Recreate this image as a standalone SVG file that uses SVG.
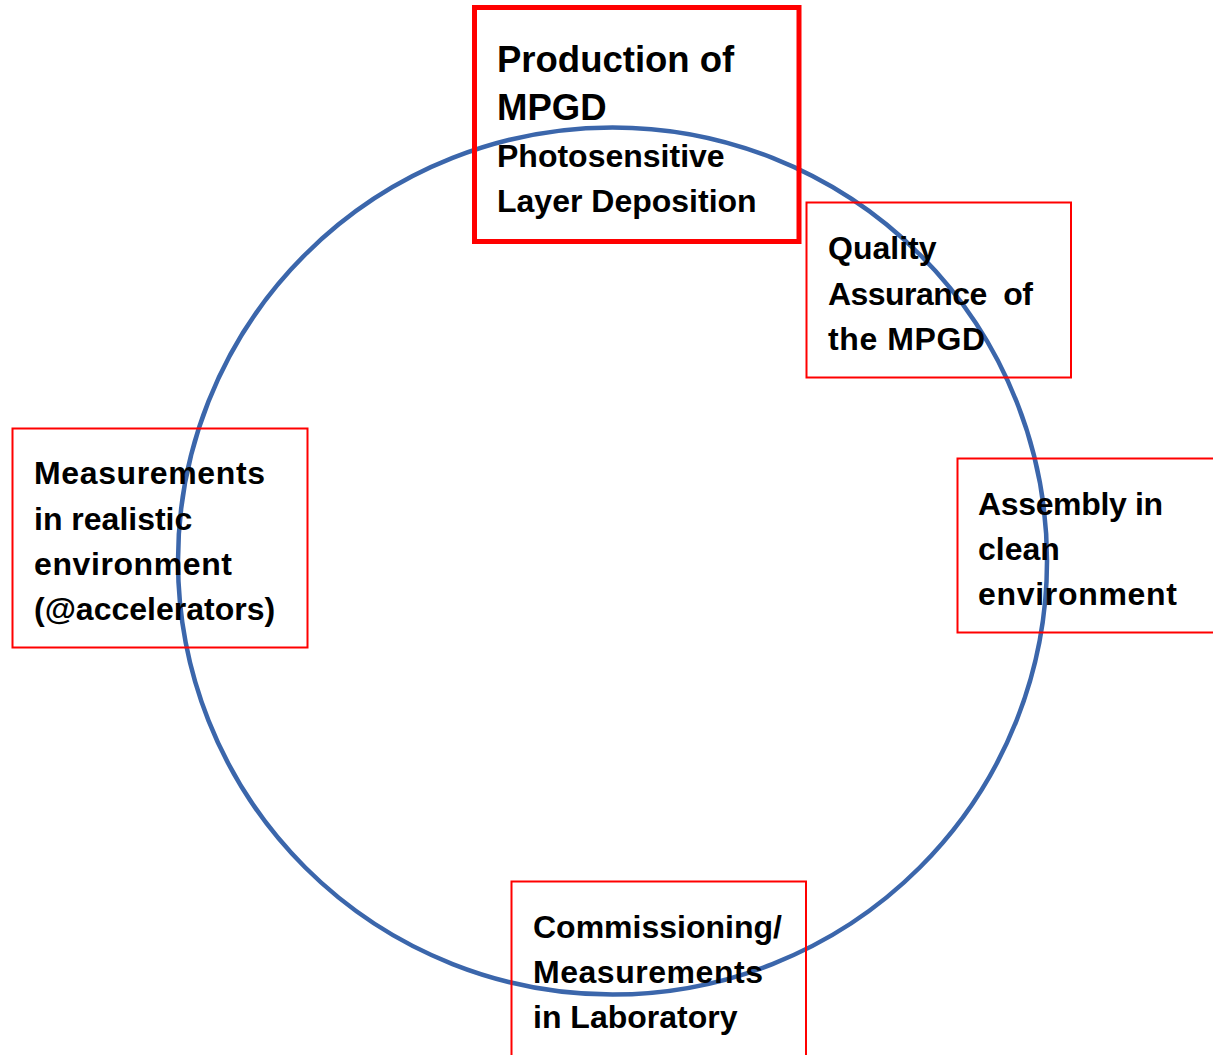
<svg xmlns="http://www.w3.org/2000/svg" width="1213" height="1055" viewBox="0 0 1213 1055">
<style>
.box{fill:none;stroke:#ff0000;stroke-width:2}
.boxb{fill:none;stroke:#ff0000;stroke-width:5}
.t{font-family:"Liberation Sans",Arial,sans-serif;font-weight:bold;font-size:32px;fill:#000}
.tl{font-family:"Liberation Sans",Arial,sans-serif;font-weight:bold;font-size:36.5px;fill:#000}
.ring{fill:none;stroke:#3b66ab;stroke-width:4.5}
</style>
<rect width="1213" height="1055" fill="#ffffff"/>
<g id="connectors">
<ellipse class="ring" cx="612.5" cy="561" rx="434.5" ry="433.5"/>
</g>
<g id="node-production">
<rect class="boxb" x="474.5" y="7.5" width="324.5" height="234"/>
<text class="tl" x="497" y="72">Production of</text>
<text class="tl" x="497" y="120">MPGD</text>
<text class="t" x="497" y="167">Photosensitive</text>
<text class="t" x="497" y="212">Layer Deposition</text>
</g>
<g id="node-quality">
<rect class="box" x="806.5" y="202.5" width="264.5" height="175"/>
<text class="t" x="828" y="259">Quality</text>
<text class="t" x="828" y="305" xml:space="preserve" textLength="205">Assurance  of</text>
<text class="t" x="828" y="350" textLength="157">the MPGD</text>
</g>
<g id="node-assembly">
<rect class="box" x="957.5" y="458.5" width="270" height="174"/>
<text class="t" x="978" y="515" textLength="185">Assembly in</text>
<text class="t" x="978" y="560">clean</text>
<text class="t" x="978" y="605" textLength="199">environment</text>
</g>
<g id="node-commissioning">
<rect class="box" x="511.5" y="881.5" width="294.5" height="200"/>
<text class="t" x="533" y="938">Commissioning/</text>
<text class="t" x="533" y="983" textLength="230">Measurements</text>
<text class="t" x="533" y="1028">in Laboratory</text>
</g>
<g id="node-measurements">
<rect class="box" x="12.5" y="428.5" width="295" height="219"/>
<text class="t" x="34" y="484" textLength="231">Measurements</text>
<text class="t" x="34" y="530">in realistic</text>
<text class="t" x="34" y="575" textLength="198">environment</text>
<text class="t" x="34" y="620">(@accelerators)</text>
</g>
</svg>
